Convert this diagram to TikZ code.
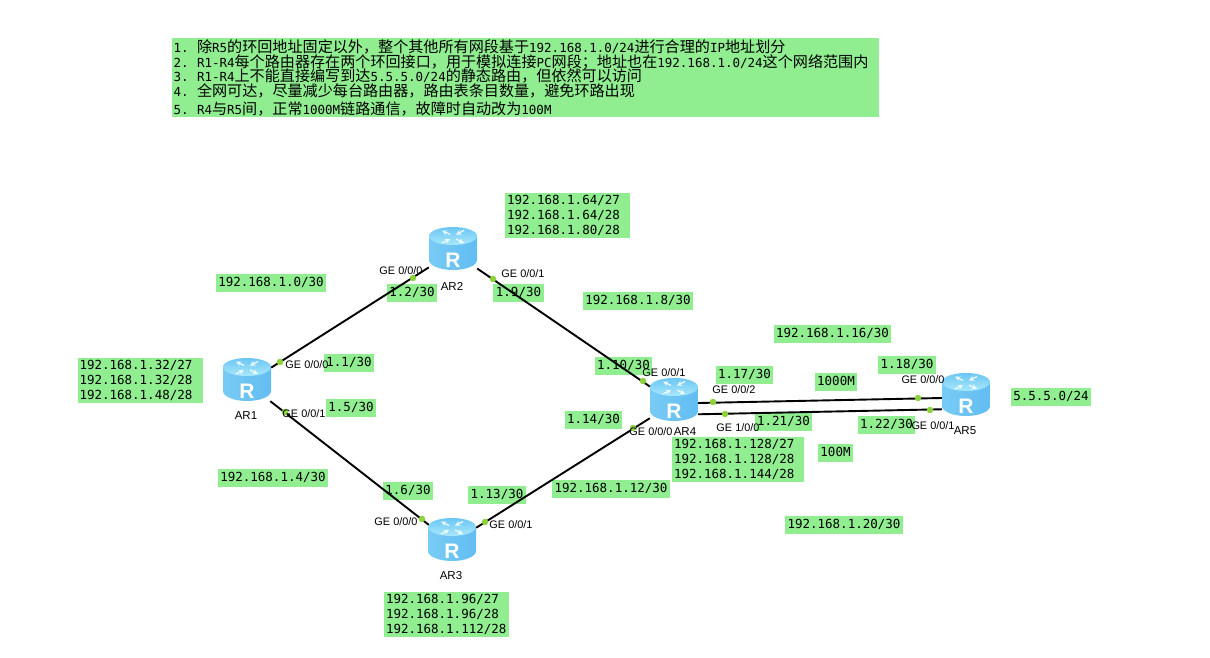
\documentclass[tikz,border=0pt]{standalone}
\usepackage{fontspec}
\setmainfont{Liberation Sans}
\newfontfamily\addrfont{DejaVu Sans Mono}
\newfontfamily\cjkfont{Noto Sans CJK SC}
\setlength{\lineskiplimit}{-100pt}
\setlength{\normallineskiplimit}{-100pt}
\definecolor{addrgreen}{HTML}{90EE90}
\definecolor{portgreen}{HTML}{8CD23C}
\definecolor{routerleft}{HTML}{78CBF5}
\definecolor{routermid}{HTML}{A0E4FC}
\definecolor{routerright}{HTML}{62BDF2}
\definecolor{routertop}{HTML}{6CC6F4}
\definecolor{routertoplow}{HTML}{A8E8FC}
\newcommand{\zh}[1]{{\cjkfont\fontsize{15.1}{14.7}\selectfont #1}}
\newcommand{\zhcomma}{\char"FF0C\relax}
\newcommand{\zhsemi}{\char"FF1B\relax}
\newcommand{\itemgap}{\hspace{2pt}}
\tikzset{
	addr/.style={fill=addrgreen,inner xsep=2.5pt,inner ysep=2.5pt,text height=10pt,text depth=3pt,font=\addrfont\fontsize{12.5}{15.3}\selectfont},
	addrlist/.style={fill=addrgreen,inner xsep=2pt,inner ysep=2pt,text width=#1,align=left,font=\addrfont\fontsize{12.5}{15.3}\selectfont},
	routerbox/.style={rectangle,minimum width=48pt,minimum height=36pt,inner sep=0pt},
	routername/.style={inner sep=0pt,font=\fontsize{11.5}{13}\selectfont},
	portdot/.style={circle,fill=portgreen,minimum size=6.5pt,inner sep=0pt},
	portname/.style={inner sep=0pt,font=\fontsize{10.9}{12}\selectfont},
	link/.style={line width=1.9pt,black},
	routericon/.style={white!85!routermid,line width=1.3pt,->}
}
\newcommand{\router}[4]{
	\node[routerbox] (#1) at (#2) {};
	\begin{scope}[shift={(#1.center)}]
		\path[left color=routerleft,middle color=routermid,right color=routerright] (-24,-16)--(-24,8) arc (180:360:24pt and 10pt)--(24,-16)--cycle;
		\path[top color=routertop,bottom color=routertoplow] (0,-16) ellipse [x radius=24pt,y radius=9pt];
		\draw[routericon] (-3,-17.5)--(-11,-21.5);
		\draw[routericon] (11,-21.5)--(3,-17.5);
		\draw[routericon] (-11,-9)--(-3,-13);
		\draw[routericon] (3,-13)--(11,-9);
		\node[white,inner sep=0pt,font=\bfseries\fontsize{21}{21}\selectfont] (#1r) at (0,8.5) {R};
	\end{scope}
	\node[routername] (#1name) at (#3) {#4};
}
\begin{document}
\begin{tikzpicture}[x=1pt,y=-1pt,>=stealth]
	\useasboundingbox (0,0) rectangle (1210,658);
	\node[fill=addrgreen,anchor=north west,text width=704pt,inner xsep=1.5pt,inner ysep=0pt,minimum height=79pt,align=left,font=\addrfont\fontsize{12.5}{14.7}\selectfont] (task) at (172,38) {1. \itemgap\zh{除}R5\zh{的环回地址固定以外\zhcomma 整个其他所有网段基于}192.168.1.0/24\zh{进行合理的}IP\zh{地址划分}\\
	2. \itemgap R1-R4\zh{每个路由器存在两个环回接口\zhcomma 用于模拟连接}PC\zh{网段\zhsemi 地址也在}192.168.1.0/24\zh{这个网络范围内}\\
	3. \itemgap R1-R4\zh{上不能直接编写到达}5.5.5.0/24\zh{的静态路由\zhcomma 但依然可以访问}\\
	4. \itemgap\zh{全网可达\zhcomma 尽量减少每台路由器\zhcomma 路由表条目数量\zhcomma 避免环路出现}\\[3pt]
	5. \itemgap R4\zh{与}R5\zh{间\zhcomma 正常}1000M\zh{链路通信\zhcomma 故障时自动改为}100M};
	\foreach \x/\y/\txt [count=\i] in {271/282.5/{192.168.1.0/30},412/293/{1.2/30},518.5/292.5/{1.9/30},638/300.5/{192.168.1.8/30},832.5/334/{192.168.1.16/30},907/364.5/{1.18/30},744.5/375/{1.17/30},836/382/{1000M},623.5/366/{1.10/30},593.5/420/{1.14/30},783.5/421.5/{1.21/30},886.5/425/{1.22/30},835.5/453/{100M},1051/397/{5.5.5.0/24},611/488.5/{192.168.1.12/30},844/524.5/{192.168.1.20/30},497/494.5/{1.13/30},408/491/{1.6/30},273/478/{192.168.1.4/30},349/363/{1.1/30},351/407.5/{1.5/30}}
		\node[addr] (addr\i) at (\x,\y) {\txt};
	\node[addrlist=121pt] (lanar1) at (140,380.5) {192.168.1.32/27\\192.168.1.32/28\\192.168.1.48/28};
	\node[addrlist=121pt] (lanar2) at (567.5,215.5) {192.168.1.64/27\\192.168.1.64/28\\192.168.1.80/28};
	\node[addrlist=121pt] (lanar3) at (446.5,614.5) {192.168.1.96/27\\192.168.1.96/28\\192.168.1.112/28};
	\node[addrlist=128pt] (lanar4) at (738,459.5) {192.168.1.128/27\\192.168.1.128/28\\192.168.1.144/28};
	\router{ar1}{247,383}{246,416}{AR1}
	\router{ar2}{453,252}{452,286}{AR2}
	\router{ar3}{452,543}{451,576}{AR3}
	\router{ar4}{674,403}{685,432}{AR4}
	\router{ar5}{966,398}{965,431}{AR5}
	\draw[link] (ar1)--(ar2);
	\draw[link] (ar1)--(ar3);
	\draw[link] (ar2)--(ar4);
	\draw[link] (ar3)--(ar4);
	\draw[link] (ar4.east)--(ar5.west);
	\draw[link] (ar4.-25)--(ar5.205);
	\foreach \x/\y/\a/\b/\txt [count=\i] in {280/362/307/365/{GE 0/0/0},285/412/304/414/{GE 0/0/1},413/278/401/271/{GE 0/0/0},493/279/523/274/{GE 0/0/1},422/519/396/522/{GE 0/0/0},485/522/511/525/{GE 0/0/1},643/381/664/373/{GE 0/0/1},713/402/734/390/{GE 0/0/2},725/414/738/428/{GE 1/0/0},633/428/651/432/{GE 0/0/0},918/398/923/380/{GE 0/0/0},930/410/933/426/{GE 0/0/1}}{
		\node[portdot] (port\i) at (\x,\y) {};
		\node[portname] (portname\i) at (\a,\b) {\txt};
	}
\end{tikzpicture}
\end{document}
